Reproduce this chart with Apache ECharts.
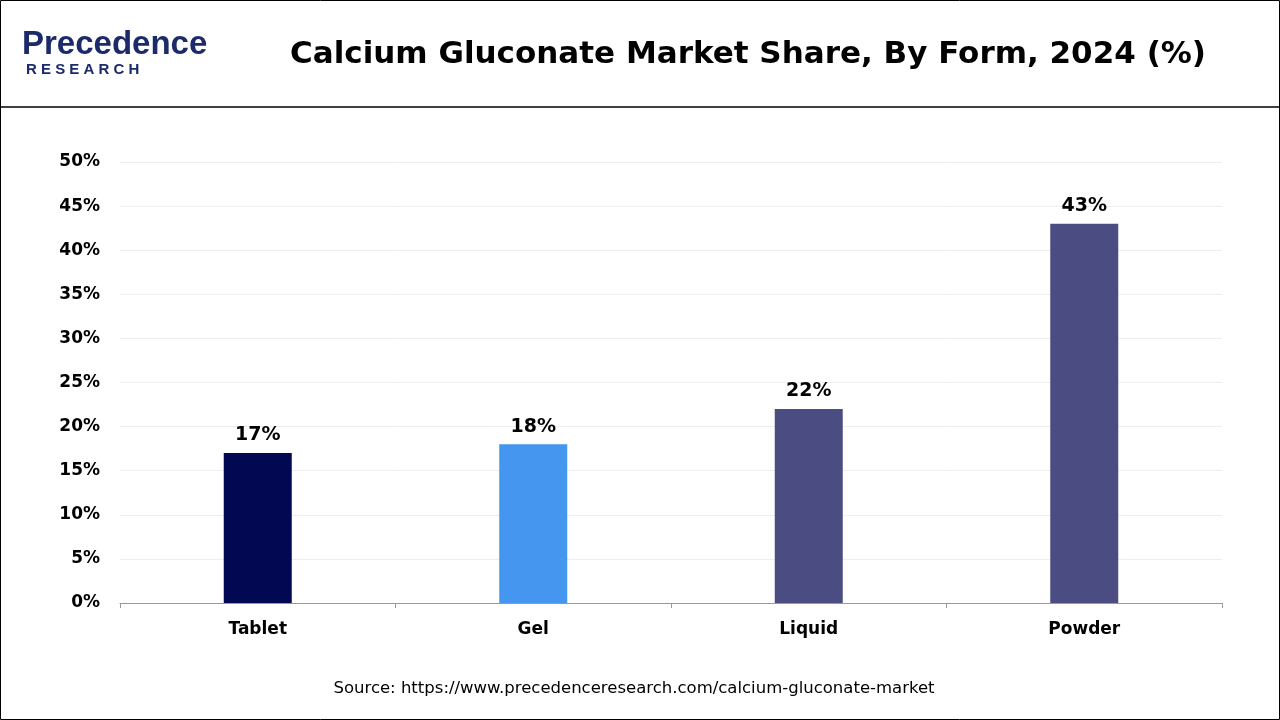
<!DOCTYPE html>
<html><head><meta charset="utf-8">
<script src="https://cdn.jsdelivr.net/npm/echarts@6/dist/echarts.min.js"></script>
<style>html,body{margin:0;padding:0;background:#fff}#c{width:1280px;height:720px}</style>
</head><body><div id="c"></div>
<script>
const categories = ['Tablet','Gel','Liquid','Powder'];
const values = [17,18,22,43];
const colors = ['#030852','#4596EE','#4B4C82','#4B4C82'];
const F = '"DejaVu Sans", Arial';
const chart = echarts.init(document.getElementById('c'));
chart.setOption({
  animation:false,
  graphic:[
    {type:'rect',shape:{x:0.5,y:0.5,width:1279,height:719},style:{fill:'none',stroke:'#000',lineWidth:1}},
    {type:'line',shape:{x1:0,y1:107,x2:1280,y2:107},style:{stroke:'#000',lineWidth:1.5}},
    {type:'text',left:22,top:28,style:{text:'Precedence',font:'bold 33px Arial',fill:'#1b2a6b'}},
    {type:'text',left:26,top:62,style:{text:'R E S E A R C H',font:'bold 15px Arial',fill:'#1b2a6b'}},
    {type:'text',x:748,y:55,style:{text:'Calcium Gluconate Market Share, By Form, 2024 (%)',font:'bold 31px '+F,fill:'#000',align:'center',verticalAlign:'middle'}},
    {type:'text',x:634,y:689,style:{text:'Source: https://www.precedenceresearch.com/calcium-gluconate-market',font:'16.5px '+F,fill:'#000',align:'center',verticalAlign:'middle'}}
  ],
  grid:{left:120,right:58,top:162,bottom:117},
  xAxis:{type:'category',data:categories,
    axisLine:{lineStyle:{color:'#999'}},axisTick:{show:true,lineStyle:{color:'#999'}},
    axisLabel:{color:'#000',fontWeight:'bold',fontSize:17,fontFamily:F,margin:18}},
  yAxis:{type:'value',min:0,max:50,interval:5,
    axisLabel:{formatter:'{value}%',color:'#000',fontWeight:'bold',fontSize:17,fontFamily:F,margin:20},
    splitLine:{lineStyle:{color:'#eee'}}},
  series:[{type:'bar',barWidth:68,
    data:values.map((v,i)=>({value:v,itemStyle:{color:colors[i]}})),
    label:{show:true,position:'top',formatter:'{c}%',color:'#000',fontWeight:'bold',fontSize:19,fontFamily:F,distance:8}}]
});
</script></body></html>
